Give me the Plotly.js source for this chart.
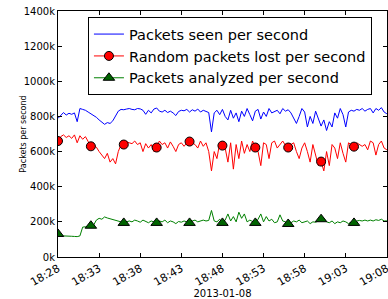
<!DOCTYPE html>
<html><head><meta charset="utf-8">
<script src="https://cdn.plot.ly/plotly-3.0.1.min.js"></script>
<style>html,body{margin:0;padding:0;background:#fff;}#chart{width:388px;height:299px;}</style>
</head><body><div id="chart"></div>
<script>
// sampling grid: 2013-01-08 18:28 .. 19:08, one sample every 20 s
const startUTC = Date.UTC(2013, 0, 8, 18, 28, 0);
const stepSeconds = 20;
const markEvery = 12;
const seriesNames = ['Packets seen per second', 'Random packets lost per second', 'Packets analyzed per second'];
const xTitle = '2013-01-08';
const yTitle = 'Packets per second';

// values in thousands of packets per second
const seen = [789,805,822,808,818,812,820,770,845,840,835,825,815,
 808,795,780,770,755,765,760,775,800,830,840,838,
 842,845,840,838,845,843,835,812,835,820,842,848,
 830,825,835,822,830,820,805,828,835,832,840,825,
 838,830,842,825,835,830,822,712,820,835,810,840,
 800,780,835,790,820,770,830,800,845,810,775,830,
 840,785,825,800,845,820,830,835,815,845,830,838,
 820,790,760,800,845,825,740,800,760,830,790,745,
 780,720,770,740,820,790,845,810,740,825,835,830,
 840,835,845,830,840,845,820,845,835,850,825,815];
const lost = [660,685,695,680,690,675,695,650,690,670,685,655,630,
 640,625,600,580,560,590,540,560,530,600,640,640,
 655,650,645,660,640,650,600,645,620,640,600,623,
 660,640,650,620,655,630,600,640,650,630,650,657,
 650,640,620,660,630,650,600,490,600,560,650,634,
 620,540,650,500,640,560,660,590,640,600,660,623,
 600,520,650,640,560,650,660,620,640,660,635,623,
 640,650,600,560,620,650,600,540,640,580,520,543,
 490,600,520,640,620,560,650,590,540,650,640,628,
 650,640,630,640,610,660,650,580,640,660,620,610];
const analyzed = [131,122,120,118,120,118,117,116,120,170,172,175,178,
 182,210,220,215,228,222,218,215,210,205,200,194,
 198,205,200,210,205,198,210,200,195,205,200,194,
 205,200,210,195,205,200,190,202,198,205,200,194,
 205,210,200,205,210,205,208,265,205,200,215,194,
 210,245,205,230,200,255,220,245,200,210,200,194,
 215,245,200,230,205,215,195,200,240,205,200,188,
 195,205,200,210,195,200,205,190,200,198,205,215,
 220,200,195,205,190,200,195,205,200,190,200,194,
 205,208,205,210,205,210,205,212,208,215,205,206];

const times = seen.map((_, i) => startUTC + i * stepSeconds * 1000);
const marked = arr => arr.map((v, i) => (i % markEvery === 0 && i < arr.length - 1 ? v : null));

const traces = [
  {x: times, y: seen, mode: 'lines', name: seriesNames[0], legendgroup: 'a',
   line: {color: '#0000ff', width: 1}},
  {x: times, y: lost, mode: 'lines', showlegend: false, legendgroup: 'b',
   line: {color: '#ff0000', width: 1}},
  {x: times, y: marked(lost), mode: 'lines+markers', name: seriesNames[1], legendgroup: 'b',
   connectgaps: false, line: {color: '#ff0000', width: 1},
   marker: {symbol: 'circle', size: 9, color: '#ff0000', line: {color: '#000', width: 1}}},
  {x: times, y: analyzed, mode: 'lines', showlegend: false, legendgroup: 'c',
   line: {color: '#008000', width: 1}},
  {x: times, y: marked(analyzed), mode: 'lines+markers', name: seriesNames[2], legendgroup: 'c',
   connectgaps: false, line: {color: '#008000', width: 1},
   marker: {symbol: 'triangle-up', size: 10, color: '#006400', line: {color: '#000', width: 1}}}
];

const layout = {
  width: 388, height: 299,
  margin: {l: 58, r: 1, t: 11, b: 42},
  paper_bgcolor: '#fff', plot_bgcolor: '#fff',
  font: {family: 'DejaVu Sans', size: 10, color: '#000'},
  showlegend: true,
  legend: {x: 0.091, y: 0.975, xanchor: 'left', yanchor: 'top', bgcolor: '#fff',
    bordercolor: '#000', borderwidth: 1, font: {size: 14.5}, tracegroupgap: 0, traceorder: 'normal'},
  xaxis: {type: 'date', range: [startUTC, startUTC + 40 * 60000 + 1000], tick0: startUTC, dtick: 300000,
    tickformat: '%H:%M', tickangle: -30, tickfont: {size: 11}, ticklabeloverflow: 'allow',
    ticks: 'inside', ticklen: 4, tickcolor: '#000',
    showline: true, linecolor: '#000', linewidth: 1, mirror: 'ticks', showgrid: false, zeroline: false,
    title: {text: xTitle, font: {size: 10}}},
  yaxis: {range: [0, 1400], tick0: 0, dtick: 200, ticksuffix: 'k', ticks: 'inside', ticklen: 4,
    tickcolor: '#000', showline: true, linecolor: '#000', linewidth: 1, mirror: 'ticks',
    showgrid: false, zeroline: false, title: {text: yTitle, font: {size: 8}}}
};

Plotly.newPlot('chart', traces, layout, {displayModeBar: false, staticPlot: true});
</script></body></html>
